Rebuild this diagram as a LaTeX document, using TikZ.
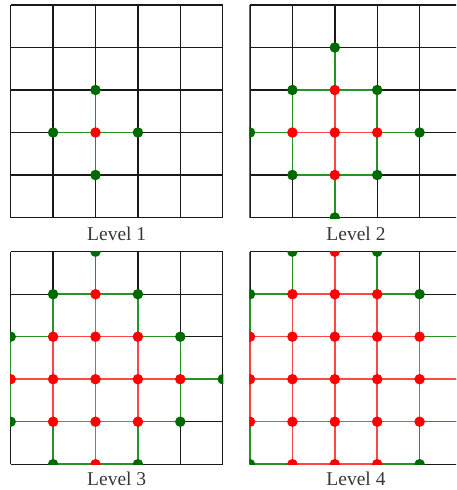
\documentclass[tikz,border=0pt]{standalone}
\usepackage{fontspec}
\setmainfont{Liberation Serif}
\definecolor{dotred}{RGB}{255,0,0}
\definecolor{linered}{RGB}{255,70,70}
\definecolor{dotgreen}{RGB}{0,105,0}
\definecolor{linegreen}{RGB}{40,145,40}
\definecolor{labelgray}{RGB}{55,55,55}
\definecolor{gridgray}{RGB}{25,25,25}
\tikzset{
  gridline/.style={gridgray, line width=1.4pt},
  redline/.style={linered, line width=1.5pt},
  greenline/.style={linegreen, line width=1.5pt},
  reddot/.style={circle, fill=dotred, inner sep=0pt, minimum size=10.5pt},
  greendot/.style={circle, fill=dotgreen, inner sep=0pt, minimum size=10.5pt},
  levellabel/.style={font=\fontsize{19.5}{22}\selectfont, text=labelgray, anchor=base},
}
\newcommand\drawlevel[3]{%
  \foreach \i in {0,...,5}{\foreach \j in {0,...,5}{
    \coordinate (P#3-\i-\j) at ({#1+42.4*\i},{#2+42.5*\j});
  }}
  \begin{scope}
    \clip ({#1-0.7},{#2-0.7}) rectangle ({#1+212.7},{#2+213.2});
    \foreach \k in {0,...,5}{
      \draw[gridline] (P#3-\k-0) -- (P#3-\k-5);
      \draw[gridline] (P#3-0-\k) -- (P#3-5-\k);
    }
    \foreach \i in {0,...,5}{\foreach \j in {0,...,5}{
      \pgfmathtruncatemacro\da{abs(\i-2)+abs(\j-3)}
      \ifnum\i<5
        \pgfmathtruncatemacro\ii{\i+1}
        \pgfmathtruncatemacro\db{abs(\ii-2)+abs(\j-3)}
        \pgfmathtruncatemacro\m{max(\da,\db)}
        \ifnum\j>0
          \ifnum\m<#3 \draw[redline] (P#3-\i-\j) -- (P#3-\ii-\j);
          \else\ifnum\m=#3 \draw[greenline] (P#3-\i-\j) -- (P#3-\ii-\j);\fi\fi
        \fi
      \fi
      \ifnum\j<5
        \pgfmathtruncatemacro\jj{\j+1}
        \pgfmathtruncatemacro\db{abs(\i-2)+abs(\jj-3)}
        \pgfmathtruncatemacro\m{max(\da,\db)}
        \ifnum\m<#3 \draw[redline] (P#3-\i-\j) -- (P#3-\i-\jj);
        \else\ifnum\m=#3 \draw[greenline] (P#3-\i-\j) -- (P#3-\i-\jj);\fi\fi
      \fi
    }}
    \foreach \i in {0,...,5}{\foreach \j in {0,...,5}{
      \pgfmathtruncatemacro\da{abs(\i-2)+abs(\j-3)}
      \ifnum\da<#3 \node[reddot] (D#3-\i-\j) at (P#3-\i-\j) {};
      \else\ifnum\da=#3 \node[greendot] (D#3-\i-\j) at (P#3-\i-\j) {};\fi\fi
    }}
  \end{scope}
}
\begin{document}
\begin{tikzpicture}[x=1pt,y=-1pt]
\useasboundingbox (0,0) rectangle (456,490);
\clip (0,0) rectangle (456,490);
\drawlevel{10.7}{5}{1}
\drawlevel{250}{5}{2}
\drawlevel{10.7}{251.7}{3}
\drawlevel{250}{251.7}{4}
\node[levellabel] (lab1) at (116.7,240.7) {Level 1};
\node[levellabel] (lab2) at (356,240.7) {Level 2};
\node[levellabel] (lab3) at (116.7,485.5) {Level 3};
\node[levellabel] (lab4) at (356,485.5) {Level 4};
\end{tikzpicture}
\end{document}
